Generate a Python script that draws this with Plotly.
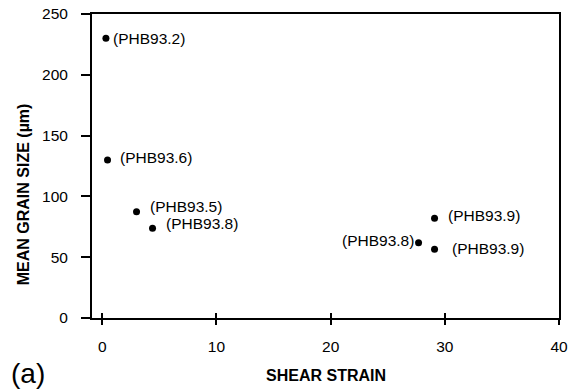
import plotly.graph_objects as go

# Data
shear_strain = [0.32, 0.46, 3.0, 4.4, 29.1, 27.7, 29.1]
grain_size = [230, 130, 87.4, 73.8, 82, 61.9, 56.5]
sample_labels = ["(PHB93.2)", "(PHB93.6)", "(PHB93.5)", "(PHB93.8)", "(PHB93.9)", "(PHB93.8)", "(PHB93.9)"]

x_ticks = [0, 10, 20, 30, 40]
y_ticks = [0, 50, 100, 150, 200, 250]

# label placement (style only): (anchor, xshift px, yshift px)
label_offsets = [("left", 5, 0), ("left", 10, 2), ("left", 11, 5), ("left", 11, 5),
                 ("left", 11, 3), ("right", -3, 2), ("left", 15, 1)]

FONT = "Liberation Sans, Arial, Helvetica, sans-serif"

fig = go.Figure()
fig.add_trace(go.Scatter(
    x=shear_strain, y=grain_size, mode="markers",
    marker=dict(color="black", size=7),
    cliponaxis=False, showlegend=False,
))
# invisible trace to activate overlay axis (inside tick halves)
fig.add_trace(go.Scatter(x=[None], y=[None], xaxis="x2", yaxis="y", showlegend=False, hoverinfo="skip"))

for xv, yv, lab, (anc, dx, dy) in zip(shear_strain, grain_size, sample_labels, label_offsets):
    fig.add_annotation(x=xv, y=yv, text=lab, showarrow=False, xanchor=anc, yanchor="middle",
                       xshift=dx, yshift=dy, font=dict(family=FONT, size=15.5, color="black"))

fig.update_layout(
    width=568, height=391,
    margin=dict(l=92, r=9, t=14, b=73),
    plot_bgcolor="white", paper_bgcolor="white",
    font=dict(family=FONT, color="black"),
    xaxis=dict(
        range=[-0.9, 40], tickvals=x_ticks, ticks="outside", ticklen=5, tickwidth=2,
        tickcolor="black", showline=True, linecolor="black", linewidth=2, mirror=True,
        showgrid=False, zeroline=False, tickfont=dict(size=15.5, family=FONT),
        ticklabelstandoff=8, automargin=False, ticklabeloverflow="allow",
    ),
    xaxis2=dict(
        overlaying="x", range=[-0.9, 40], tickvals=x_ticks, ticks="inside", ticklen=5, tickwidth=2,
        tickcolor="black", showticklabels=False, showline=False, showgrid=False, zeroline=False,
        side="bottom", anchor="y", automargin=False,
    ),
    yaxis=dict(
        range=[0, 250], tickvals=y_ticks, ticks="outside", ticklen=9, tickwidth=2,
        tickcolor="black", showline=True, linecolor="black", linewidth=2, mirror=True,
        showgrid=False, zeroline=False, tickfont=dict(size=15.5, family=FONT),
        ticklabelstandoff=10, automargin=False, ticklabeloverflow="allow",
    ),
)

fig.add_annotation(text="<b>SHEAR STRAIN</b>", xref="paper", yref="paper", x=0.502, y=-0.1875,
                   xanchor="center", yanchor="middle", showarrow=False,
                   font=dict(size=16, family=FONT, color="black"))
fig.add_annotation(text="<b>MEAN GRAIN SIZE (µm)</b>", xref="paper", yref="paper", x=-0.145, y=0.408,
                   xanchor="center", yanchor="middle", textangle=-90, showarrow=False,
                   font=dict(size=16, family=FONT, color="black"))
fig.add_annotation(text="(a)", xref="paper", yref="paper", x=-0.178, y=-0.184,
                   xanchor="left", yanchor="middle", showarrow=False,
                   font=dict(size=28, family=FONT, color="black"))

fig.write_html(
    "out.html",
    config={"displayModeBar": False},
    post_script="document.body.style.margin='0';document.body.style.padding='0';"
                "document.documentElement.style.overflow='hidden';",
)
